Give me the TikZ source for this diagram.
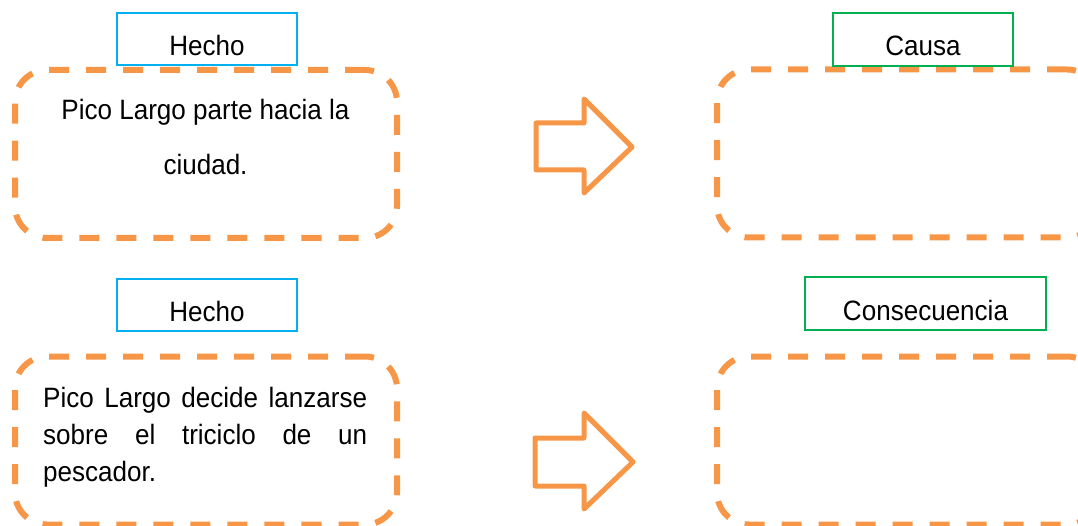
\documentclass[tikz,border=0pt]{standalone}
\usepackage{fontspec}
\setmainfont{Liberation Sans}[FakeStretch=0.93]
\definecolor{orng}{HTML}{F79646}
\definecolor{lblue}{HTML}{00B0F0}
\definecolor{lgreen}{HTML}{00B050}
\tikzset{
  dbox/.style={draw=orng, line width=6pt, dash pattern=on 20pt off 17pt, rounded corners=32pt,
    minimum width=382pt, minimum height=168pt, inner sep=0pt},
  hlabel/.style={draw=lblue, line width=2.6pt, minimum width=180pt, minimum height=52pt,
    inner sep=0pt, text height=33pt, text depth=0pt},
  clabel/.style={draw=lgreen, line width=2.6pt, minimum height=53pt,
    inner sep=0pt, text height=33pt, text depth=0pt},
  bigarrow/.style={draw=orng, line width=5pt, line join=round},
  txt/.style={inner sep=0pt, anchor=base}
}
\begin{document}
\begin{tikzpicture}[x=1pt, y=-1pt, font=\fontsize{28}{37}\selectfont]
\useasboundingbox (0,0) rectangle (1078,526);
\clip (0,0) rectangle (1078,526);
% dashed boxes
\node[dbox] (b1) at (206,154) {};
\node[dbox] (b2) at (908,153.5) {};
\node[dbox] (b3) at (206,440.5) {};
\node[dbox] (b4) at (908,440.5) {};
% labels
\node[hlabel] (h1) at (207,39) {Hecho};
\node[clabel, minimum width=180pt] (c1) at (923,39.5) {Causa};
\node[hlabel] (h2) at (207,305) {Hecho};
\node[clabel, minimum width=241pt] (c2) at (925.5,303.5) {Consecuencia};
% texts
\node[txt] (t1) at (205.5,120) {\parbox[t]{360pt}{\centering\fontsize{28}{55}\selectfont Pico Largo parte hacia la\\ciudad.}};
\node[txt, anchor=base west] (t2) at (43,407) {\parbox[t]{324pt}{\fontsize{28}{37}\selectfont\hyphenpenalty=10000\tolerance=10000\hbadness=10000\noindent Pico Largo decide lanzarse\linebreak sobre el triciclo de un\linebreak pescador.}};
% arrows
\draw[bigarrow] (536,123) -- (584,123) -- (584,99) -- (632,147) -- (584,193) -- (584,170) -- (536,170) -- cycle;
\draw[bigarrow] (535,438) -- (584,438) -- (584,413) -- (633,462) -- (584,509) -- (584,486) -- (535,486) -- cycle;
\end{tikzpicture}
\end{document}
